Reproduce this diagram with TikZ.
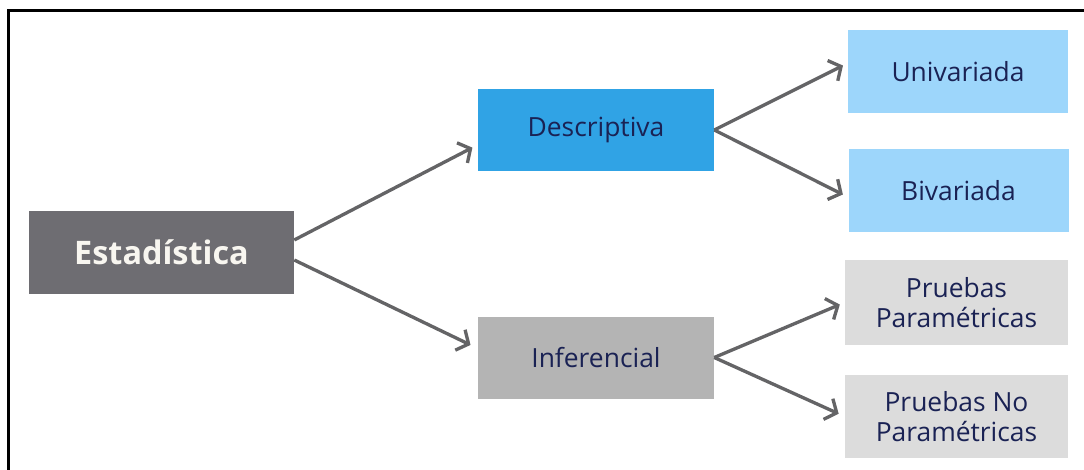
\documentclass[tikz,border=0pt]{standalone}
\usepackage{fontspec}
\setmainfont{Open Sans}
\usetikzlibrary{arrows.meta,calc}
\definecolor{rootfill}{RGB}{110,109,114}
\definecolor{descfill}{RGB}{48,163,229}
\definecolor{leafblue}{RGB}{157,214,251}
\definecolor{inffill}{RGB}{180,180,180}
\definecolor{leafgray}{RGB}{220,220,220}
\definecolor{navy}{RGB}{26,34,84}
\definecolor{linkgray}{RGB}{100,100,102}
\begin{document}
\begin{tikzpicture}[x=0.75pt,y=-0.75pt,
  box/.style={rectangle,inner sep=0pt,align=center,text=navy,
    font=\fontsize{19.8}{22.8}\selectfont},
  rootbox/.style={box,fill=rootfill,text={rgb,255:red,248;green,246;blue,240},
    font=\fontsize{24.3}{28}\selectfont\bfseries,
    minimum width=198.75pt,minimum height=62.25pt},
  midbox/.style={box,minimum width=177pt,minimum height=61.5pt},
  leafbox/.style={box,minimum width=165pt,minimum height=62.25pt},
  link/.style={draw=linkgray,line width=2.5pt,
    -{Straight Barb[length=7pt,width=17pt,line width=2.5pt]}}]
  \useasboundingbox (0,0) rectangle (1084,470);
  % frame: top and left edges only
  \draw[line width=1.8pt,black] (1084,10.5) -- (8.5,10.5) -- (8.5,470);

  % boxes
  \node[rootbox] (est) at (161.5,252.5) {Estadística};
  \node[midbox,fill=descfill] (desc) at (596,130) {Descriptiva};
  \node[midbox,fill=inffill] (inf) at (596,357.5) {Inferencial};
  \node[leafbox,fill=leafblue] (uni) at (958,71.5) {Univariada};
  \node[leafbox,fill=leafblue] (biv) at (958.5,190.5) {Bivariada};
  \node[leafbox,fill=leafgray,minimum width=167.25pt,minimum height=63.75pt]
    (pp) at (956.5,302.5) {Pruebas\\Paramétricas};
  \node[leafbox,fill=leafgray,minimum width=167.25pt]
    (pnp) at (956.5,416.5) {Pruebas No\\Paramétricas};

  % connectors
  \draw[link,shorten >=4.5pt] ($(est.north east)!0.35!(est.south east)$)
    -- ($(desc.north west)!0.68!(desc.south west)$);
  \draw[link,shorten >=6pt] ($(est.north east)!0.59!(est.south east)$)
    -- ($(inf.north west)!0.39!(inf.south west)$);
  \draw[link,shorten >=4pt] (desc.east)
    -- ($(uni.north west)!0.40!(uni.south west)$);
  \draw[link,shorten >=4.5pt] (desc.east)
    -- ($(biv.north west)!0.58!(biv.south west)$);
  \draw[link,shorten >=4pt] (inf.east) -- (pp.west);
  \draw[link,shorten >=5pt] (inf.east) -- (pnp.west);
\end{tikzpicture}
\end{document}
